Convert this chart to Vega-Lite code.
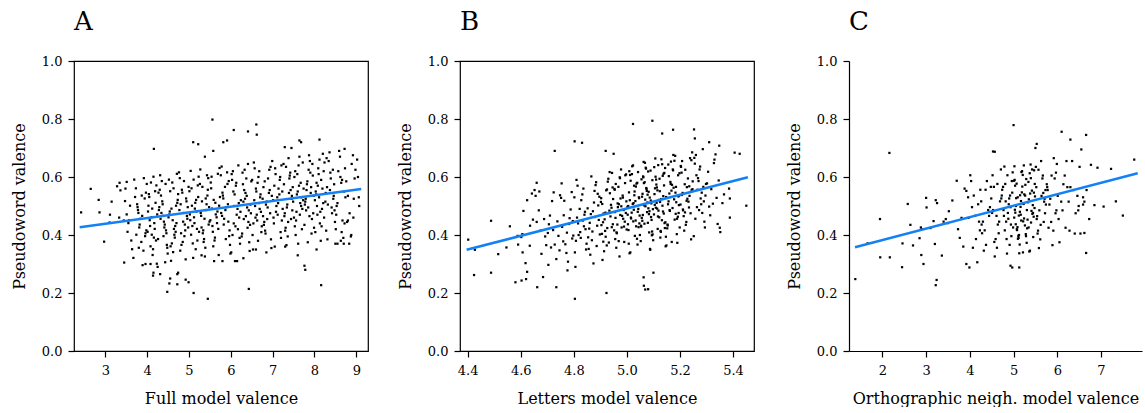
{
"$schema": "https://vega.github.io/schema/vega-lite/v6.json",
"background": "white",
"padding": {"left": 10, "top": 8, "right": 0, "bottom": 0},
"config": {
  "font": "DejaVu Serif",
  "view": {"stroke": "black", "strokeWidth": 1.2},
  "axis": {"grid": false, "domain": false, "tickColor": "black", "tickWidth": 1.2, "tickSize": 6, "labelFontSize": 13, "labelColor": "black", "labelPadding": 6, "titleFontSize": 16, "titleFontWeight": "normal", "titleColor": "black"},
  "axisX": {"labelPadding": 7, "titlePadding": 13, "labelFlush": false},
  "axisY": {"titlePadding": 14},
  "title": {"anchor": "start", "frame": "group", "fontSize": 26, "fontWeight": "normal", "color": "black", "baseline": "alphabetic", "offset": 20}
},
"datasets": {
  "lineA": [{"x": 2.386, "y": 0.427}, {"x": 9.118, "y": 0.559}],
  "lineB": [{"x": 4.396, "y": 0.349}, {"x": 5.456, "y": 0.599}],
  "lineC": [{"x": 1.373, "y": 0.358}, {"x": 7.839, "y": 0.613}],
  "A": [
{"x":2.42,"y":0.478},{"x":2.65,"y":0.559},{"x":2.84,"y":0.521},{"x":2.86,"y":0.478},{"x":2.97,"y":0.377},{"x":3.10,"y":0.443},{"x":3.11,"y":0.47},{"x":3.15,"y":0.515},{"x":3.28,"y":0.568},{"x":3.34,"y":0.58},{"x":3.45,"y":0.305},{"x":3.44,"y":0.45},{"x":3.47,"y":0.517},{"x":3.33,"y":0.46},{"x":3.36,"y":0.554},{"x":3.48,"y":0.56},{"x":3.51,"y":0.583},
{"x":4.14,"y":0.26},{"x":4.15,"y":0.27},{"x":4.31,"y":0.265},{"x":4.25,"y":0.29},{"x":3.96,"y":0.30},{"x":4.08,"y":0.30},{"x":4.48,"y":0.204},{"x":4.53,"y":0.233},{"x":4.55,"y":0.25},{"x":4.72,"y":0.265},{"x":4.74,"y":0.27},{"x":4.72,"y":0.23},{"x":4.92,"y":0.246},{"x":4.99,"y":0.237},{"x":5.11,"y":0.20},{"x":5.45,"y":0.18},{"x":6.43,"y":0.214},{"x":7.76,"y":0.294},{"x":7.78,"y":0.28},{"x":8.16,"y":0.227},
{"x":5.56,"y":0.798},{"x":6.07,"y":0.762},{"x":6.41,"y":0.757},{"x":6.61,"y":0.781},{"x":6.62,"y":0.746},{"x":5.82,"y":0.72},{"x":5.91,"y":0.726},{"x":5.10,"y":0.72},{"x":5.22,"y":0.713},{"x":4.16,"y":0.697},{"x":8.12,"y":0.729},{"x":7.64,"y":0.726},{"x":7.68,"y":0.72},{"x":7.29,"y":0.703},{"x":7.45,"y":0.70},{"x":8.72,"y":0.697},{"x":9.02,"y":0.66},{"x":5.38,"y":0.67},{"x":5.58,"y":0.69},
{"x":9.04,"y":0.60},{"x":9.06,"y":0.53},{"x":9.07,"y":0.50},{"x":8.93,"y":0.46},{"x":8.83,"y":0.37},{"x":8.88,"y":0.40},{"x":8.65,"y":0.41},{"x":8.63,"y":0.38},{"x":8.80,"y":0.45},
{"x":5.30,"y":0.33},{"x":5.60,"y":0.31},{"x":5.80,"y":0.31},{"x":6.10,"y":0.31},{"x":6.15,"y":0.31},{"x":6.30,"y":0.32},{"x":6.60,"y":0.35},{"x":6.85,"y":0.34},{"x":7.30,"y":0.36},{"x":7.60,"y":0.33},{"x":8.05,"y":0.35},{"x":8.50,"y":0.37},{"x":8.55,"y":0.37},{"x":8.70,"y":0.37},
{"x":3.51,"y":0.471},{"x":3.62,"y":0.381},{"x":3.73,"y":0.561},{"x":3.55,"y":0.441},{"x":3.67,"y":0.321},{"x":3.59,"y":0.501},{"x":3.71,"y":0.531},{"x":3.53,"y":0.411},{"x":3.64,"y":0.351},{"x":3.69,"y":0.591},{"x":3.57,"y":0.451},{"x":3.74,"y":0.401},
{"x":3.76,"y":0.506},{"x":3.87,"y":0.536},{"x":3.98,"y":0.416},{"x":3.80,"y":0.356},{"x":3.92,"y":0.596},{"x":3.84,"y":0.456},{"x":3.96,"y":0.406},{"x":3.78,"y":0.486},{"x":3.89,"y":0.296},{"x":3.94,"y":0.526},{"x":3.82,"y":0.436},{"x":3.99,"y":0.576},{"x":3.86,"y":0.376},{"x":3.77,"y":0.496},{"x":3.91,"y":0.346},{"x":3.97,"y":0.546},{"x":3.81,"y":0.426},{"x":3.88,"y":0.466},{"x":3.95,"y":0.396},{"x":3.79,"y":0.476},
{"x":4.01,"y":0.411},{"x":4.12,"y":0.491},{"x":4.23,"y":0.301},{"x":4.05,"y":0.531},{"x":4.17,"y":0.441},{"x":4.09,"y":0.581},{"x":4.21,"y":0.381},{"x":4.03,"y":0.501},{"x":4.14,"y":0.351},{"x":4.19,"y":0.551},{"x":4.07,"y":0.431},{"x":4.24,"y":0.471},{"x":4.11,"y":0.401},{"x":4.02,"y":0.481},{"x":4.16,"y":0.391},{"x":4.22,"y":0.571},{"x":4.06,"y":0.451},{"x":4.13,"y":0.331},{"x":4.20,"y":0.511},{"x":4.04,"y":0.541},{"x":4.18,"y":0.421},{"x":4.08,"y":0.361},{"x":4.15,"y":0.601},{"x":4.10,"y":0.461},
{"x":4.26,"y":0.386},{"x":4.37,"y":0.506},{"x":4.48,"y":0.356},{"x":4.30,"y":0.556},{"x":4.42,"y":0.436},{"x":4.34,"y":0.476},{"x":4.46,"y":0.406},{"x":4.28,"y":0.486},{"x":4.39,"y":0.396},{"x":4.44,"y":0.576},{"x":4.32,"y":0.456},{"x":4.49,"y":0.336},{"x":4.36,"y":0.516},{"x":4.27,"y":0.546},{"x":4.41,"y":0.426},{"x":4.47,"y":0.366},{"x":4.31,"y":0.606},{"x":4.38,"y":0.466},{"x":4.45,"y":0.416},{"x":4.29,"y":0.496},{"x":4.43,"y":0.306},{"x":4.33,"y":0.536},{"x":4.40,"y":0.446},{"x":4.35,"y":0.586},
{"x":4.51,"y":0.461},{"x":4.62,"y":0.341},{"x":4.73,"y":0.521},{"x":4.55,"y":0.551},{"x":4.67,"y":0.431},{"x":4.59,"y":0.371},{"x":4.71,"y":0.611},{"x":4.53,"y":0.471},{"x":4.64,"y":0.421},{"x":4.69,"y":0.501},{"x":4.57,"y":0.311},{"x":4.74,"y":0.541},{"x":4.61,"y":0.451},{"x":4.52,"y":0.591},{"x":4.66,"y":0.391},{"x":4.72,"y":0.511},{"x":4.56,"y":0.361},{"x":4.63,"y":0.561},{"x":4.70,"y":0.441},{"x":4.54,"y":0.481},{"x":4.68,"y":0.411},{"x":4.58,"y":0.491},{"x":4.65,"y":0.401},{"x":4.60,"y":0.581},
{"x":4.76,"y":0.616},{"x":4.87,"y":0.476},{"x":4.98,"y":0.426},{"x":4.80,"y":0.506},{"x":4.92,"y":0.316},{"x":4.84,"y":0.546},{"x":4.96,"y":0.456},{"x":4.78,"y":0.596},{"x":4.89,"y":0.396},{"x":4.94,"y":0.516},{"x":4.82,"y":0.366},{"x":4.99,"y":0.566},{"x":4.86,"y":0.446},{"x":4.77,"y":0.486},{"x":4.91,"y":0.416},{"x":4.97,"y":0.496},{"x":4.81,"y":0.406},{"x":4.88,"y":0.586},{"x":4.95,"y":0.466},{"x":4.79,"y":0.346},{"x":4.93,"y":0.526},{"x":4.83,"y":0.556},{"x":4.90,"y":0.436},{"x":4.85,"y":0.376},
{"x":5.01,"y":0.551},{"x":5.12,"y":0.461},{"x":5.23,"y":0.601},{"x":5.05,"y":0.401},{"x":5.17,"y":0.521},{"x":5.09,"y":0.371},{"x":5.21,"y":0.571},{"x":5.03,"y":0.451},{"x":5.14,"y":0.491},{"x":5.19,"y":0.421},{"x":5.07,"y":0.501},{"x":5.24,"y":0.411},{"x":5.11,"y":0.591},{"x":5.02,"y":0.471},{"x":5.16,"y":0.351},{"x":5.22,"y":0.531},{"x":5.06,"y":0.561},{"x":5.13,"y":0.441},{"x":5.20,"y":0.381},{"x":5.04,"y":0.621},{"x":5.18,"y":0.481},{"x":5.08,"y":0.431},{"x":5.15,"y":0.511},{"x":5.10,"y":0.321},
{"x":5.26,"y":0.576},{"x":5.37,"y":0.456},{"x":5.48,"y":0.496},{"x":5.30,"y":0.426},{"x":5.42,"y":0.506},{"x":5.34,"y":0.416},{"x":5.46,"y":0.596},{"x":5.28,"y":0.476},{"x":5.39,"y":0.356},{"x":5.44,"y":0.536},{"x":5.32,"y":0.566},{"x":5.49,"y":0.446},{"x":5.36,"y":0.386},{"x":5.27,"y":0.626},{"x":5.41,"y":0.486},{"x":5.47,"y":0.436},{"x":5.31,"y":0.516},{"x":5.38,"y":0.326},{"x":5.45,"y":0.556},{"x":5.29,"y":0.466},{"x":5.43,"y":0.606},{"x":5.33,"y":0.406},{"x":5.40,"y":0.526},{"x":5.35,"y":0.376},
{"x":5.51,"y":0.451},{"x":5.62,"y":0.391},{"x":5.73,"y":0.631},{"x":5.55,"y":0.491},{"x":5.67,"y":0.441},{"x":5.59,"y":0.521},{"x":5.71,"y":0.331},{"x":5.53,"y":0.561},{"x":5.64,"y":0.471},{"x":5.69,"y":0.611},{"x":5.57,"y":0.411},{"x":5.74,"y":0.531},{"x":5.61,"y":0.381},{"x":5.52,"y":0.581},{"x":5.66,"y":0.461},{"x":5.72,"y":0.501},{"x":5.56,"y":0.431},{"x":5.63,"y":0.511},{"x":5.70,"y":0.421},{"x":5.54,"y":0.601},{"x":5.68,"y":0.481},{"x":5.58,"y":0.361},
{"x":5.76,"y":0.606},{"x":5.87,"y":0.486},{"x":5.98,"y":0.366},{"x":5.80,"y":0.546},{"x":5.92,"y":0.576},{"x":5.84,"y":0.456},{"x":5.96,"y":0.396},{"x":5.78,"y":0.636},{"x":5.89,"y":0.496},{"x":5.94,"y":0.446},{"x":5.82,"y":0.526},{"x":5.99,"y":0.336},{"x":5.86,"y":0.566},{"x":5.77,"y":0.476},{"x":5.91,"y":0.616},{"x":5.97,"y":0.416},{"x":5.81,"y":0.536},{"x":5.88,"y":0.386},{"x":5.95,"y":0.586},{"x":5.79,"y":0.466},{"x":5.93,"y":0.506},{"x":5.83,"y":0.436},
{"x":6.01,"y":0.340},{"x":6.12,"y":0.570},{"x":6.23,"y":0.480},{"x":6.05,"y":0.620},{"x":6.17,"y":0.420},{"x":6.09,"y":0.540},{"x":6.21,"y":0.390},{"x":6.03,"y":0.590},{"x":6.14,"y":0.470},{"x":6.19,"y":0.510},{"x":6.07,"y":0.440},{"x":6.24,"y":0.520},{"x":6.11,"y":0.430},{"x":6.02,"y":0.610},{"x":6.16,"y":0.490},{"x":6.22,"y":0.370},{"x":6.06,"y":0.550},{"x":6.13,"y":0.580},{"x":6.20,"y":0.460},{"x":6.04,"y":0.400},{"x":6.18,"y":0.640},{"x":6.08,"y":0.500},
{"x":6.26,"y":0.395},{"x":6.37,"y":0.595},{"x":6.48,"y":0.475},{"x":6.30,"y":0.515},{"x":6.42,"y":0.445},{"x":6.34,"y":0.525},{"x":6.46,"y":0.435},{"x":6.28,"y":0.615},{"x":6.39,"y":0.495},{"x":6.44,"y":0.375},{"x":6.32,"y":0.555},{"x":6.49,"y":0.585},{"x":6.36,"y":0.465},{"x":6.27,"y":0.405},{"x":6.41,"y":0.645},{"x":6.47,"y":0.505},{"x":6.31,"y":0.455},{"x":6.38,"y":0.535},{"x":6.45,"y":0.345},{"x":6.29,"y":0.575},{"x":6.43,"y":0.485},{"x":6.33,"y":0.625},{"x":6.40,"y":0.425},{"x":6.35,"y":0.545},
{"x":6.51,"y":0.590},{"x":6.62,"y":0.470},{"x":6.73,"y":0.410},{"x":6.55,"y":0.650},{"x":6.67,"y":0.510},{"x":6.59,"y":0.460},{"x":6.71,"y":0.540},{"x":6.53,"y":0.350},{"x":6.64,"y":0.580},{"x":6.69,"y":0.490},{"x":6.57,"y":0.630},{"x":6.74,"y":0.430},{"x":6.61,"y":0.550},{"x":6.52,"y":0.400},{"x":6.66,"y":0.600},{"x":6.72,"y":0.480},{"x":6.56,"y":0.520},{"x":6.63,"y":0.450},{"x":6.70,"y":0.530},{"x":6.54,"y":0.440},{"x":6.68,"y":0.620},{"x":6.58,"y":0.500},{"x":6.65,"y":0.380},{"x":6.60,"y":0.560},
{"x":6.76,"y":0.525},{"x":6.87,"y":0.455},{"x":6.98,"y":0.535},{"x":6.80,"y":0.445},{"x":6.92,"y":0.625},{"x":6.84,"y":0.505},{"x":6.96,"y":0.385},{"x":6.78,"y":0.565},{"x":6.89,"y":0.595},{"x":6.94,"y":0.475},{"x":6.82,"y":0.415},{"x":6.99,"y":0.655},{"x":6.86,"y":0.515},{"x":6.77,"y":0.465},{"x":6.91,"y":0.545},{"x":6.97,"y":0.355},{"x":6.81,"y":0.585},{"x":6.88,"y":0.495},{"x":6.95,"y":0.635},{"x":6.79,"y":0.435},{"x":6.93,"y":0.555},{"x":6.83,"y":0.405},
{"x":7.01,"y":0.520},{"x":7.12,"y":0.470},{"x":7.23,"y":0.550},{"x":7.05,"y":0.360},{"x":7.17,"y":0.590},{"x":7.09,"y":0.500},{"x":7.21,"y":0.640},{"x":7.03,"y":0.440},{"x":7.14,"y":0.560},{"x":7.19,"y":0.410},{"x":7.07,"y":0.610},{"x":7.24,"y":0.490},{"x":7.11,"y":0.530},{"x":7.02,"y":0.460},{"x":7.16,"y":0.540},{"x":7.22,"y":0.450},{"x":7.06,"y":0.630},{"x":7.13,"y":0.510},{"x":7.20,"y":0.390},{"x":7.04,"y":0.570},{"x":7.18,"y":0.600},{"x":7.08,"y":0.480},
{"x":7.26,"y":0.645},{"x":7.37,"y":0.445},{"x":7.48,"y":0.565},{"x":7.30,"y":0.415},{"x":7.42,"y":0.615},{"x":7.34,"y":0.495},{"x":7.46,"y":0.535},{"x":7.28,"y":0.465},{"x":7.39,"y":0.545},{"x":7.44,"y":0.455},{"x":7.32,"y":0.635},{"x":7.49,"y":0.515},{"x":7.36,"y":0.395},{"x":7.27,"y":0.575},{"x":7.41,"y":0.605},{"x":7.47,"y":0.485},{"x":7.31,"y":0.425},{"x":7.38,"y":0.665},{"x":7.45,"y":0.525},{"x":7.29,"y":0.475},{"x":7.43,"y":0.555},{"x":7.33,"y":0.365},{"x":7.40,"y":0.595},{"x":7.35,"y":0.505},
{"x":7.51,"y":0.460},{"x":7.62,"y":0.640},{"x":7.73,"y":0.520},{"x":7.55,"y":0.400},{"x":7.67,"y":0.580},{"x":7.59,"y":0.610},{"x":7.71,"y":0.490},{"x":7.53,"y":0.430},{"x":7.64,"y":0.670},{"x":7.69,"y":0.530},{"x":7.57,"y":0.480},{"x":7.74,"y":0.560},{"x":7.61,"y":0.370},{"x":7.52,"y":0.600},{"x":7.66,"y":0.510},{"x":7.72,"y":0.650},{"x":7.56,"y":0.450},{"x":7.63,"y":0.570},{"x":7.70,"y":0.420},{"x":7.54,"y":0.620},{"x":7.68,"y":0.500},{"x":7.58,"y":0.540},{"x":7.65,"y":0.470},{"x":7.60,"y":0.550},
{"x":7.76,"y":0.435},{"x":7.87,"y":0.675},{"x":7.98,"y":0.535},{"x":7.80,"y":0.485},{"x":7.92,"y":0.565},{"x":7.84,"y":0.375},{"x":7.96,"y":0.605},{"x":7.78,"y":0.515},{"x":7.89,"y":0.655},{"x":7.94,"y":0.455},{"x":7.82,"y":0.575},{"x":7.99,"y":0.425},{"x":7.86,"y":0.625},{"x":7.77,"y":0.505},{"x":7.91,"y":0.545},{"x":7.97,"y":0.475},{"x":7.81,"y":0.555},{"x":7.88,"y":0.465},{"x":7.95,"y":0.645},{"x":7.79,"y":0.525},{"x":7.93,"y":0.405},{"x":7.83,"y":0.585},{"x":7.90,"y":0.615},{"x":7.85,"y":0.495},
{"x":8.01,"y":0.520},{"x":8.12,"y":0.660},{"x":8.23,"y":0.460},{"x":8.05,"y":0.580},{"x":8.17,"y":0.430},{"x":8.09,"y":0.630},{"x":8.21,"y":0.510},{"x":8.03,"y":0.550},{"x":8.14,"y":0.480},{"x":8.19,"y":0.560},{"x":8.07,"y":0.470},{"x":8.24,"y":0.650},{"x":8.11,"y":0.530},{"x":8.02,"y":0.410},{"x":8.16,"y":0.590},{"x":8.22,"y":0.620},{"x":8.06,"y":0.500},{"x":8.13,"y":0.440},{"x":8.20,"y":0.680},{"x":8.04,"y":0.540},{"x":8.18,"y":0.490},{"x":8.08,"y":0.570},{"x":8.15,"y":0.380},{"x":8.10,"y":0.610},
{"x":8.26,"y":0.515},{"x":8.37,"y":0.555},{"x":8.48,"y":0.485},{"x":8.30,"y":0.565},{"x":8.42,"y":0.475},{"x":8.34,"y":0.655},{"x":8.46,"y":0.535},{"x":8.28,"y":0.415},{"x":8.39,"y":0.595},{"x":8.44,"y":0.625},{"x":8.32,"y":0.505},{"x":8.49,"y":0.445},{"x":8.36,"y":0.685},{"x":8.27,"y":0.545},{"x":8.41,"y":0.495},{"x":8.47,"y":0.575},{"x":8.31,"y":0.385},{"x":8.38,"y":0.615},{"x":8.45,"y":0.525},{"x":8.29,"y":0.665},
{"x":8.51,"y":0.420},{"x":8.62,"y":0.600},{"x":8.73,"y":0.630},{"x":8.55,"y":0.510},{"x":8.67,"y":0.450},{"x":8.59,"y":0.690},{"x":8.71,"y":0.550},{"x":8.53,"y":0.500},{"x":8.64,"y":0.580},{"x":8.69,"y":0.390},{"x":8.57,"y":0.620},{"x":8.74,"y":0.530},{"x":8.61,"y":0.670},{"x":8.52,"y":0.470},{"x":8.66,"y":0.590},{"x":8.72,"y":0.440},
{"x":8.76,"y":0.585},{"x":8.87,"y":0.395},{"x":8.98,"y":0.625},{"x":8.80,"y":0.535},{"x":8.92,"y":0.675},{"x":8.84,"y":0.475},{"x":8.96,"y":0.595},{"x":8.78,"y":0.445},{"x":8.89,"y":0.645},{"x":8.94,"y":0.525}
  ],
  "B": [
{"x":4.402,"y":0.384},{"x":4.427,"y":0.349},{"x":4.424,"y":0.262},{"x":4.488,"y":0.449},{"x":4.488,"y":0.27},{"x":4.515,"y":0.334},{"x":4.546,"y":0.357},{"x":4.559,"y":0.43},{"x":4.58,"y":0.237},{"x":4.588,"y":0.397},{"x":4.59,"y":0.367},{"x":4.603,"y":0.243},{"x":4.607,"y":0.34},{"x":4.624,"y":0.52},{"x":4.62,"y":0.248},{"x":4.635,"y":0.432},{"x":4.662,"y":0.22},{"x":4.66,"y":0.58},{"x":4.67,"y":0.55},{"x":4.728,"y":0.69},{"x":4.734,"y":0.22},{"x":4.803,"y":0.723},{"x":4.831,"y":0.718},{"x":4.804,"y":0.18},{"x":4.923,"y":0.20},{"x":5.023,"y":0.783},{"x":5.096,"y":0.794},{"x":5.133,"y":0.75},{"x":5.174,"y":0.763},{"x":5.253,"y":0.764},{"x":5.256,"y":0.733},{"x":5.31,"y":0.72},{"x":5.063,"y":0.254},{"x":5.064,"y":0.225},{"x":5.069,"y":0.212},{"x":5.08,"y":0.213},{"x":5.10,"y":0.27},{"x":5.406,"y":0.684},{"x":5.425,"y":0.68},{"x":5.45,"y":0.501},{"x":5.385,"y":0.56},{"x":5.388,"y":0.526},{"x":5.388,"y":0.46},{"x":5.35,"y":0.425},{"x":5.352,"y":0.41},{"x":5.36,"y":0.51},{"x":5.366,"y":0.54},{"x":5.33,"y":0.66},{"x":4.92,"y":0.69},{"x":4.95,"y":0.68},
{"x":4.602,"y":0.393},{"x":4.624,"y":0.273},{"x":4.646,"y":0.453},{"x":4.610,"y":0.483},{"x":4.634,"y":0.363},{"x":4.618,"y":0.303},{"x":4.642,"y":0.543},{"x":4.606,"y":0.403},
{"x":4.652,"y":0.555},{"x":4.674,"y":0.415},{"x":4.696,"y":0.365},{"x":4.660,"y":0.445},{"x":4.684,"y":0.255},{"x":4.668,"y":0.485},{"x":4.692,"y":0.395},{"x":4.656,"y":0.535},{"x":4.678,"y":0.335},{"x":4.688,"y":0.455},
{"x":4.702,"y":0.407},{"x":4.724,"y":0.547},{"x":4.746,"y":0.347},{"x":4.710,"y":0.467},{"x":4.734,"y":0.317},{"x":4.718,"y":0.517},{"x":4.742,"y":0.397},{"x":4.706,"y":0.437},{"x":4.728,"y":0.367},{"x":4.738,"y":0.447},{"x":4.714,"y":0.357},{"x":4.748,"y":0.537},{"x":4.722,"y":0.417},{"x":4.704,"y":0.297},
{"x":4.752,"y":0.528},{"x":4.774,"y":0.408},{"x":4.796,"y":0.448},{"x":4.760,"y":0.378},{"x":4.784,"y":0.458},{"x":4.768,"y":0.368},{"x":4.792,"y":0.548},{"x":4.756,"y":0.428},{"x":4.778,"y":0.308},{"x":4.788,"y":0.488},{"x":4.764,"y":0.518},{"x":4.798,"y":0.398},{"x":4.772,"y":0.338},{"x":4.754,"y":0.578},{"x":4.782,"y":0.438},{"x":4.794,"y":0.388},{"x":4.762,"y":0.468},{"x":4.776,"y":0.278},
{"x":4.802,"y":0.530},{"x":4.824,"y":0.410},{"x":4.846,"y":0.350},{"x":4.810,"y":0.590},{"x":4.834,"y":0.450},{"x":4.818,"y":0.400},{"x":4.842,"y":0.480},{"x":4.806,"y":0.290},{"x":4.828,"y":0.520},{"x":4.838,"y":0.430},{"x":4.814,"y":0.570},{"x":4.848,"y":0.370},{"x":4.822,"y":0.490},{"x":4.804,"y":0.340},{"x":4.832,"y":0.540},{"x":4.844,"y":0.420},{"x":4.812,"y":0.460},{"x":4.826,"y":0.390},{"x":4.840,"y":0.470},{"x":4.808,"y":0.380},{"x":4.836,"y":0.560},{"x":4.816,"y":0.440},
{"x":4.852,"y":0.492},{"x":4.874,"y":0.302},{"x":4.896,"y":0.532},{"x":4.860,"y":0.442},{"x":4.884,"y":0.582},{"x":4.868,"y":0.382},{"x":4.892,"y":0.502},{"x":4.856,"y":0.352},{"x":4.878,"y":0.552},{"x":4.888,"y":0.432},{"x":4.864,"y":0.472},{"x":4.898,"y":0.402},{"x":4.872,"y":0.482},{"x":4.854,"y":0.392},{"x":4.882,"y":0.572},{"x":4.894,"y":0.452},{"x":4.862,"y":0.332},{"x":4.876,"y":0.512},{"x":4.890,"y":0.542},{"x":4.858,"y":0.422},{"x":4.886,"y":0.362},{"x":4.866,"y":0.602},{"x":4.880,"y":0.462},{"x":4.870,"y":0.412},
{"x":4.902,"y":0.514},{"x":4.924,"y":0.364},{"x":4.946,"y":0.564},{"x":4.910,"y":0.444},{"x":4.934,"y":0.484},{"x":4.918,"y":0.414},{"x":4.942,"y":0.494},{"x":4.906,"y":0.404},{"x":4.928,"y":0.584},{"x":4.938,"y":0.464},{"x":4.914,"y":0.344},{"x":4.948,"y":0.524},{"x":4.922,"y":0.554},{"x":4.904,"y":0.434},{"x":4.932,"y":0.374},{"x":4.944,"y":0.614},{"x":4.912,"y":0.474},{"x":4.926,"y":0.424},{"x":4.940,"y":0.504},{"x":4.908,"y":0.314},{"x":4.936,"y":0.544},{"x":4.916,"y":0.454},{"x":4.930,"y":0.594},{"x":4.920,"y":0.394},
{"x":4.903,"y":0.527},{"x":4.925,"y":0.557},{"x":4.947,"y":0.437},{"x":4.911,"y":0.377},{"x":4.935,"y":0.617},{"x":4.919,"y":0.477},{"x":4.943,"y":0.427},{"x":4.907,"y":0.507},
{"x":4.952,"y":0.416},{"x":4.974,"y":0.596},{"x":4.996,"y":0.476},{"x":4.960,"y":0.356},{"x":4.984,"y":0.536},{"x":4.968,"y":0.566},{"x":4.992,"y":0.446},{"x":4.956,"y":0.386},{"x":4.978,"y":0.626},{"x":4.988,"y":0.486},{"x":4.964,"y":0.436},{"x":4.998,"y":0.516},{"x":4.972,"y":0.326},{"x":4.954,"y":0.556},{"x":4.982,"y":0.466},{"x":4.994,"y":0.606},{"x":4.962,"y":0.406},{"x":4.976,"y":0.526},{"x":4.990,"y":0.376},{"x":4.958,"y":0.576},{"x":4.986,"y":0.456},{"x":4.966,"y":0.496},{"x":4.980,"y":0.426},{"x":4.970,"y":0.506},
{"x":4.953,"y":0.559},{"x":4.975,"y":0.469},{"x":4.997,"y":0.609},{"x":4.961,"y":0.409},{"x":4.985,"y":0.529},{"x":4.969,"y":0.379},{"x":4.993,"y":0.579},{"x":4.957,"y":0.459},{"x":4.979,"y":0.499},{"x":4.989,"y":0.429},{"x":4.965,"y":0.509},{"x":4.999,"y":0.419},{"x":4.973,"y":0.599},{"x":4.955,"y":0.479},
{"x":5.002,"y":0.497},{"x":5.024,"y":0.447},{"x":5.046,"y":0.527},{"x":5.010,"y":0.337},{"x":5.034,"y":0.567},{"x":5.018,"y":0.477},{"x":5.042,"y":0.617},{"x":5.006,"y":0.417},{"x":5.028,"y":0.537},{"x":5.038,"y":0.387},{"x":5.014,"y":0.587},{"x":5.048,"y":0.467},{"x":5.022,"y":0.507},{"x":5.004,"y":0.437},{"x":5.032,"y":0.517},{"x":5.044,"y":0.427},{"x":5.012,"y":0.607},{"x":5.026,"y":0.487},{"x":5.040,"y":0.367},{"x":5.008,"y":0.547},{"x":5.036,"y":0.577},{"x":5.016,"y":0.457},{"x":5.030,"y":0.397},{"x":5.020,"y":0.637},
{"x":5.003,"y":0.470},{"x":5.025,"y":0.510},{"x":5.047,"y":0.440},{"x":5.011,"y":0.520},{"x":5.035,"y":0.430},{"x":5.019,"y":0.610},{"x":5.043,"y":0.490},{"x":5.007,"y":0.370},{"x":5.029,"y":0.550},{"x":5.039,"y":0.580},{"x":5.015,"y":0.460},{"x":5.049,"y":0.400},{"x":5.023,"y":0.640},{"x":5.005,"y":0.500},{"x":5.033,"y":0.450},{"x":5.045,"y":0.530},{"x":5.013,"y":0.340},{"x":5.027,"y":0.570},{"x":5.041,"y":0.480},{"x":5.009,"y":0.620},
{"x":5.052,"y":0.379},{"x":5.074,"y":0.559},{"x":5.096,"y":0.589},{"x":5.060,"y":0.469},{"x":5.084,"y":0.409},{"x":5.068,"y":0.649},{"x":5.092,"y":0.509},{"x":5.056,"y":0.459},{"x":5.078,"y":0.539},{"x":5.088,"y":0.349},{"x":5.064,"y":0.579},{"x":5.098,"y":0.489},{"x":5.072,"y":0.629},{"x":5.054,"y":0.429},{"x":5.082,"y":0.549},{"x":5.094,"y":0.399},{"x":5.062,"y":0.599},{"x":5.076,"y":0.479},{"x":5.090,"y":0.519},{"x":5.058,"y":0.449},{"x":5.086,"y":0.529},{"x":5.066,"y":0.439},{"x":5.080,"y":0.619},{"x":5.070,"y":0.499},
{"x":5.053,"y":0.432},{"x":5.075,"y":0.552},{"x":5.097,"y":0.402},{"x":5.061,"y":0.602},{"x":5.085,"y":0.482},{"x":5.069,"y":0.522},{"x":5.093,"y":0.452},{"x":5.057,"y":0.532},{"x":5.079,"y":0.442},{"x":5.089,"y":0.622},{"x":5.065,"y":0.502},{"x":5.099,"y":0.382},{"x":5.073,"y":0.562},{"x":5.055,"y":0.592},{"x":5.083,"y":0.472},{"x":5.095,"y":0.412},{"x":5.063,"y":0.652},{"x":5.077,"y":0.512},{"x":5.091,"y":0.462},{"x":5.059,"y":0.542},{"x":5.087,"y":0.352},{"x":5.067,"y":0.582},{"x":5.081,"y":0.492},{"x":5.071,"y":0.632},
{"x":5.102,"y":0.471},{"x":5.124,"y":0.551},{"x":5.146,"y":0.361},{"x":5.110,"y":0.591},{"x":5.134,"y":0.501},{"x":5.118,"y":0.641},{"x":5.142,"y":0.441},{"x":5.106,"y":0.561},{"x":5.128,"y":0.411},{"x":5.138,"y":0.611},{"x":5.114,"y":0.491},{"x":5.148,"y":0.531},{"x":5.122,"y":0.461},{"x":5.104,"y":0.541},{"x":5.132,"y":0.451},{"x":5.144,"y":0.631},{"x":5.112,"y":0.511},{"x":5.126,"y":0.391},{"x":5.140,"y":0.571},{"x":5.108,"y":0.601},{"x":5.136,"y":0.481},{"x":5.116,"y":0.421},{"x":5.130,"y":0.661},{"x":5.120,"y":0.521},
{"x":5.103,"y":0.634},{"x":5.125,"y":0.514},{"x":5.147,"y":0.394},{"x":5.111,"y":0.574},{"x":5.135,"y":0.604},{"x":5.119,"y":0.484},{"x":5.143,"y":0.424},{"x":5.107,"y":0.664},{"x":5.129,"y":0.524},{"x":5.139,"y":0.474},{"x":5.115,"y":0.554},{"x":5.149,"y":0.364},{"x":5.123,"y":0.594},{"x":5.105,"y":0.504},{"x":5.133,"y":0.644},{"x":5.145,"y":0.444},{"x":5.113,"y":0.564},{"x":5.127,"y":0.414},{"x":5.141,"y":0.614},{"x":5.109,"y":0.494},{"x":5.137,"y":0.534},{"x":5.117,"y":0.464},
{"x":5.152,"y":0.423},{"x":5.174,"y":0.623},{"x":5.196,"y":0.503},{"x":5.160,"y":0.543},{"x":5.184,"y":0.473},{"x":5.168,"y":0.553},{"x":5.192,"y":0.463},{"x":5.156,"y":0.643},{"x":5.178,"y":0.523},{"x":5.188,"y":0.403},{"x":5.164,"y":0.583},{"x":5.198,"y":0.613},{"x":5.172,"y":0.493},{"x":5.154,"y":0.433},{"x":5.182,"y":0.673},{"x":5.194,"y":0.533},{"x":5.162,"y":0.483},{"x":5.176,"y":0.563},{"x":5.190,"y":0.373},{"x":5.158,"y":0.603},{"x":5.186,"y":0.513},{"x":5.166,"y":0.653},{"x":5.180,"y":0.453},{"x":5.170,"y":0.573},
{"x":5.153,"y":0.436},{"x":5.175,"y":0.676},{"x":5.197,"y":0.536},{"x":5.161,"y":0.486},{"x":5.185,"y":0.566},{"x":5.169,"y":0.376},{"x":5.193,"y":0.606},{"x":5.157,"y":0.516},{"x":5.179,"y":0.656},{"x":5.189,"y":0.456},{"x":5.165,"y":0.576},{"x":5.199,"y":0.426},{"x":5.173,"y":0.626},{"x":5.155,"y":0.506},{"x":5.183,"y":0.546},{"x":5.195,"y":0.476},
{"x":5.202,"y":0.505},{"x":5.224,"y":0.445},{"x":5.246,"y":0.685},{"x":5.210,"y":0.545},{"x":5.234,"y":0.495},{"x":5.218,"y":0.575},{"x":5.242,"y":0.385},{"x":5.206,"y":0.615},{"x":5.228,"y":0.525},{"x":5.238,"y":0.665},{"x":5.214,"y":0.465},{"x":5.248,"y":0.585},{"x":5.222,"y":0.435},{"x":5.204,"y":0.635},{"x":5.232,"y":0.515},{"x":5.244,"y":0.555},{"x":5.212,"y":0.485},{"x":5.226,"y":0.565},{"x":5.240,"y":0.475},{"x":5.208,"y":0.655},{"x":5.236,"y":0.535},{"x":5.216,"y":0.415},{"x":5.230,"y":0.595},{"x":5.220,"y":0.625},
{"x":5.203,"y":0.638},{"x":5.225,"y":0.518},{"x":5.247,"y":0.558},{"x":5.211,"y":0.488},{"x":5.235,"y":0.568},{"x":5.219,"y":0.478},{"x":5.243,"y":0.658},{"x":5.207,"y":0.538},
{"x":5.252,"y":0.396},{"x":5.274,"y":0.626},{"x":5.296,"y":0.536},{"x":5.260,"y":0.676},{"x":5.284,"y":0.476},{"x":5.268,"y":0.596},{"x":5.292,"y":0.446},{"x":5.256,"y":0.646},{"x":5.278,"y":0.526},{"x":5.288,"y":0.566},{"x":5.264,"y":0.496},{"x":5.298,"y":0.576},{"x":5.272,"y":0.486},{"x":5.254,"y":0.666},{"x":5.282,"y":0.546},{"x":5.294,"y":0.426},{"x":5.262,"y":0.606},{"x":5.276,"y":0.636},{"x":5.290,"y":0.516},{"x":5.258,"y":0.456},{"x":5.286,"y":0.696},{"x":5.266,"y":0.556},{"x":5.280,"y":0.506},{"x":5.270,"y":0.586},
{"x":5.302,"y":0.578},{"x":5.324,"y":0.508},{"x":5.346,"y":0.588},{"x":5.310,"y":0.498},{"x":5.334,"y":0.678},{"x":5.318,"y":0.558},{"x":5.342,"y":0.438},{"x":5.306,"y":0.618},{"x":5.328,"y":0.648},{"x":5.338,"y":0.528},{"x":5.314,"y":0.468},{"x":5.348,"y":0.708}
  ],
  "C": [
{"x":1.38,"y":0.248},{"x":1.66,"y":0.371},{"x":1.945,"y":0.455},{"x":1.95,"y":0.323},{"x":2.16,"y":0.683},{"x":2.17,"y":0.323},{"x":2.45,"y":0.289},{"x":2.46,"y":0.371},{"x":2.58,"y":0.507},{"x":2.64,"y":0.435},{"x":2.70,"y":0.364},{"x":2.85,"y":0.389},{"x":2.88,"y":0.426},{"x":2.90,"y":0.420},{"x":2.94,"y":0.300},{"x":2.89,"y":0.331},{"x":3.00,"y":0.528},{"x":3.01,"y":0.495},{"x":3.10,"y":0.424},{"x":3.17,"y":0.448},{"x":3.20,"y":0.369},{"x":3.22,"y":0.52},{"x":3.25,"y":0.51},{"x":3.24,"y":0.245},{"x":3.22,"y":0.227},{"x":3.36,"y":0.329},{"x":3.40,"y":0.446},{"x":3.45,"y":0.455},{"x":3.49,"y":0.441},{"x":3.52,"y":0.482},{"x":3.60,"y":0.519},{"x":3.70,"y":0.587},{"x":3.73,"y":0.42},{"x":3.77,"y":0.39},{"x":3.81,"y":0.459},{"x":3.85,"y":0.36},{"x":3.88,"y":0.56},{"x":3.92,"y":0.552},{"x":3.92,"y":0.30},{"x":3.96,"y":0.53},{"x":3.99,"y":0.288},{"x":3.97,"y":0.459},
{"x":6.10,"y":0.756},{"x":6.66,"y":0.745},{"x":6.30,"y":0.729},{"x":7.76,"y":0.66},{"x":7.23,"y":0.628},{"x":6.92,"y":0.632},{"x":6.77,"y":0.642},{"x":7.34,"y":0.516},{"x":7.50,"y":0.467},{"x":7.06,"y":0.498},{"x":6.85,"y":0.503},{"x":6.66,"y":0.338},{"x":6.62,"y":0.407},{"x":6.53,"y":0.405},{"x":6.59,"y":0.53},{"x":6.40,"y":0.405},{"x":6.49,"y":0.50},{"x":5.53,"y":0.714},{"x":5.50,"y":0.70},{"x":4.57,"y":0.687},{"x":5.0,"y":0.779},{"x":4.93,"y":0.294},{"x":4.97,"y":0.288},{"x":5.13,"y":0.288},{"x":4.53,"y":0.688},
{"x":4.01,"y":0.606},{"x":4.12,"y":0.466},{"x":4.23,"y":0.416},{"x":4.05,"y":0.496},{"x":4.17,"y":0.306},{"x":4.09,"y":0.536},{"x":4.21,"y":0.446},{"x":4.03,"y":0.586},{"x":4.14,"y":0.386},{"x":4.19,"y":0.506},{"x":4.07,"y":0.356},{"x":4.24,"y":0.556},
{"x":4.26,"y":0.516},{"x":4.37,"y":0.366},{"x":4.48,"y":0.566},{"x":4.30,"y":0.446},{"x":4.42,"y":0.486},{"x":4.34,"y":0.416},{"x":4.46,"y":0.496},{"x":4.28,"y":0.406},{"x":4.39,"y":0.586},{"x":4.44,"y":0.466},{"x":4.32,"y":0.346},{"x":4.49,"y":0.526},{"x":4.36,"y":0.556},{"x":4.27,"y":0.436},
{"x":4.51,"y":0.476},{"x":4.62,"y":0.356},{"x":4.73,"y":0.536},{"x":4.55,"y":0.566},{"x":4.67,"y":0.446},{"x":4.59,"y":0.386},{"x":4.71,"y":0.626},{"x":4.53,"y":0.486},{"x":4.64,"y":0.436},{"x":4.69,"y":0.516},{"x":4.57,"y":0.326},{"x":4.74,"y":0.556},{"x":4.61,"y":0.466},{"x":4.52,"y":0.606},{"x":4.66,"y":0.406},{"x":4.72,"y":0.526},{"x":4.56,"y":0.376},{"x":4.63,"y":0.576},
{"x":4.76,"y":0.566},{"x":4.87,"y":0.476},{"x":4.98,"y":0.616},{"x":4.80,"y":0.416},{"x":4.92,"y":0.536},{"x":4.84,"y":0.386},{"x":4.96,"y":0.586},{"x":4.78,"y":0.466},{"x":4.89,"y":0.506},{"x":4.94,"y":0.436},{"x":4.82,"y":0.516},{"x":4.99,"y":0.426},{"x":4.86,"y":0.606},{"x":4.77,"y":0.486},{"x":4.91,"y":0.366},{"x":4.97,"y":0.546},{"x":4.81,"y":0.576},{"x":4.88,"y":0.456},{"x":4.95,"y":0.396},{"x":4.79,"y":0.636},{"x":4.93,"y":0.496},{"x":4.83,"y":0.446},{"x":4.90,"y":0.526},{"x":4.85,"y":0.336},
{"x":5.01,"y":0.587},{"x":5.12,"y":0.467},{"x":5.23,"y":0.507},{"x":5.05,"y":0.437},{"x":5.17,"y":0.517},{"x":5.09,"y":0.427},{"x":5.21,"y":0.607},{"x":5.03,"y":0.487},{"x":5.14,"y":0.367},{"x":5.19,"y":0.547},{"x":5.07,"y":0.577},{"x":5.24,"y":0.457},{"x":5.11,"y":0.397},{"x":5.02,"y":0.637},{"x":5.16,"y":0.497},{"x":5.22,"y":0.447},{"x":5.06,"y":0.527},{"x":5.13,"y":0.337},{"x":5.20,"y":0.567},{"x":5.04,"y":0.477},{"x":5.18,"y":0.617},{"x":5.08,"y":0.417},{"x":5.15,"y":0.537},{"x":5.10,"y":0.387},
{"x":5.015,"y":0.460},{"x":5.125,"y":0.400},{"x":5.235,"y":0.640},{"x":5.055,"y":0.500},{"x":5.175,"y":0.450},{"x":5.095,"y":0.530},{"x":5.215,"y":0.340},{"x":5.035,"y":0.570},{"x":5.145,"y":0.480},{"x":5.195,"y":0.620},{"x":5.075,"y":0.420},{"x":5.245,"y":0.540},{"x":5.115,"y":0.390},{"x":5.025,"y":0.590},{"x":5.165,"y":0.470},{"x":5.225,"y":0.510},
{"x":5.26,"y":0.433},{"x":5.37,"y":0.613},{"x":5.48,"y":0.493},{"x":5.30,"y":0.373},{"x":5.42,"y":0.553},{"x":5.34,"y":0.583},{"x":5.46,"y":0.463},{"x":5.28,"y":0.403},{"x":5.39,"y":0.643},{"x":5.44,"y":0.503},{"x":5.32,"y":0.453},{"x":5.49,"y":0.533},{"x":5.36,"y":0.343},{"x":5.27,"y":0.573},{"x":5.41,"y":0.483},{"x":5.47,"y":0.623},{"x":5.31,"y":0.423},{"x":5.38,"y":0.543},{"x":5.45,"y":0.393},{"x":5.29,"y":0.593},{"x":5.43,"y":0.473},{"x":5.33,"y":0.513},{"x":5.40,"y":0.443},{"x":5.35,"y":0.523},
{"x":5.265,"y":0.536},{"x":5.375,"y":0.346},{"x":5.485,"y":0.576},{"x":5.305,"y":0.486},{"x":5.425,"y":0.626},{"x":5.345,"y":0.426},{"x":5.465,"y":0.546},{"x":5.285,"y":0.396},{"x":5.395,"y":0.596},{"x":5.445,"y":0.476},
{"x":5.51,"y":0.635},{"x":5.62,"y":0.435},{"x":5.73,"y":0.555},{"x":5.55,"y":0.405},{"x":5.67,"y":0.605},{"x":5.59,"y":0.485},{"x":5.71,"y":0.525},{"x":5.53,"y":0.455},{"x":5.64,"y":0.535},{"x":5.69,"y":0.445},{"x":5.57,"y":0.625},{"x":5.74,"y":0.505},{"x":5.61,"y":0.385},{"x":5.52,"y":0.565},{"x":5.66,"y":0.595},{"x":5.72,"y":0.475},{"x":5.56,"y":0.415},{"x":5.63,"y":0.655},{"x":5.70,"y":0.515},{"x":5.54,"y":0.465},{"x":5.68,"y":0.545},{"x":5.58,"y":0.355},
{"x":5.76,"y":0.575},{"x":5.87,"y":0.605},{"x":5.98,"y":0.485},{"x":5.80,"y":0.425},{"x":5.92,"y":0.665},{"x":5.84,"y":0.525},{"x":5.96,"y":0.475},{"x":5.78,"y":0.555},{"x":5.89,"y":0.365},{"x":5.94,"y":0.595},{"x":5.82,"y":0.505},{"x":5.99,"y":0.645},{"x":5.86,"y":0.445},{"x":5.77,"y":0.565},{"x":5.91,"y":0.415},{"x":5.97,"y":0.615},
{"x":6.01,"y":0.535},{"x":6.12,"y":0.485},{"x":6.23,"y":0.565},{"x":6.05,"y":0.375},{"x":6.17,"y":0.605},{"x":6.09,"y":0.515},{"x":6.21,"y":0.655},{"x":6.03,"y":0.455},{"x":6.14,"y":0.575},{"x":6.19,"y":0.425},
{"x":6.26,"y":0.515},{"x":6.37,"y":0.555},{"x":6.48,"y":0.485},{"x":6.30,"y":0.565},{"x":6.42,"y":0.475},{"x":6.34,"y":0.655},{"x":6.46,"y":0.535},{"x":6.28,"y":0.415},
{"x":6.51,"y":0.635},{"x":6.62,"y":0.515},{"x":6.73,"y":0.455},{"x":6.55,"y":0.695},{"x":6.67,"y":0.555},{"x":6.59,"y":0.505}
  ]
},
"bounds": "flush",
"spacing": 92,
"hconcat": [
  {
    "title": {"text": "A"},
    "width": 294, "height": 290,
    "layer": [
      {"data": {"name": "A"}, "mark": {"type": "point", "shape": "square", "filled": true, "size": 5, "color": "black", "opacity": 1},
       "encoding": {
         "x": {"field": "x", "type": "quantitative", "scale": {"domain": [2.25, 9.28], "nice": false, "zero": false}, "axis": {"values": [3,4,5,6,7,8,9], "format": "d", "title": "Full model valence"}},
         "y": {"field": "y", "type": "quantitative", "scale": {"domain": [0, 1], "nice": false}, "axis": {"values": [0,0.2,0.4,0.6,0.8,1.0], "format": ".1f", "title": "Pseudoword valence"}}
       }},
      {"data": {"name": "lineA"}, "mark": {"type": "line", "color": "#1380f5", "strokeWidth": 2.5},
       "encoding": {"x": {"field": "x", "type": "quantitative"}, "y": {"field": "y", "type": "quantitative"}}}
    ]
  },
  {
    "bounds": "flush",
    "spacing": 95,
    "hconcat": [
      {
        "title": {"text": "B"},
        "width": 294, "height": 290,
        "layer": [
          {"data": {"name": "B"}, "mark": {"type": "point", "shape": "square", "filled": true, "size": 5, "color": "black", "opacity": 1},
           "encoding": {
             "x": {"field": "x", "type": "quantitative", "scale": {"domain": [4.371, 5.479], "nice": false, "zero": false}, "axis": {"values": [4.4,4.6,4.8,5.0,5.2,5.4], "format": ".1f", "title": "Letters model valence"}},
             "y": {"field": "y", "type": "quantitative", "scale": {"domain": [0, 1], "nice": false}, "axis": {"values": [0,0.2,0.4,0.6,0.8,1.0], "format": ".1f", "title": "Pseudoword valence"}}
           }},
          {"data": {"name": "lineB"}, "mark": {"type": "line", "color": "#1380f5", "strokeWidth": 2.5},
           "encoding": {"x": {"field": "x", "type": "quantitative"}, "y": {"field": "y", "type": "quantitative"}}}
        ]
      },
      {
        "title": {"text": "C"},
        "width": 293, "height": 290,
        "view": {"stroke": null},
        "layer": [
          {"data": {"name": "C"}, "mark": {"type": "point", "shape": "square", "filled": true, "size": 5, "color": "black", "opacity": 1},
           "encoding": {
             "x": {"field": "x", "type": "quantitative", "scale": {"domain": [1.236, 7.938], "nice": false, "zero": false}, "axis": {"values": [2,3,4,5,6,7], "format": "d", "title": "Orthographic neigh. model valence", "domain": true, "domainColor": "black", "domainWidth": 1.2}},
             "y": {"field": "y", "type": "quantitative", "scale": {"domain": [0, 1], "nice": false}, "axis": {"values": [0,0.2,0.4,0.6,0.8,1.0], "format": ".1f", "title": "Pseudoword valence", "domain": true, "domainColor": "black", "domainWidth": 1.2}}
           }},
          {"data": {"name": "lineC"}, "mark": {"type": "line", "color": "#1380f5", "strokeWidth": 2.5},
           "encoding": {"x": {"field": "x", "type": "quantitative"}, "y": {"field": "y", "type": "quantitative"}}},
          {"mark": {"type": "rule", "color": "black", "strokeWidth": 1.2},
           "encoding": {"y": {"datum": 1}}}
        ]
      }
    ]
  }
]
}
